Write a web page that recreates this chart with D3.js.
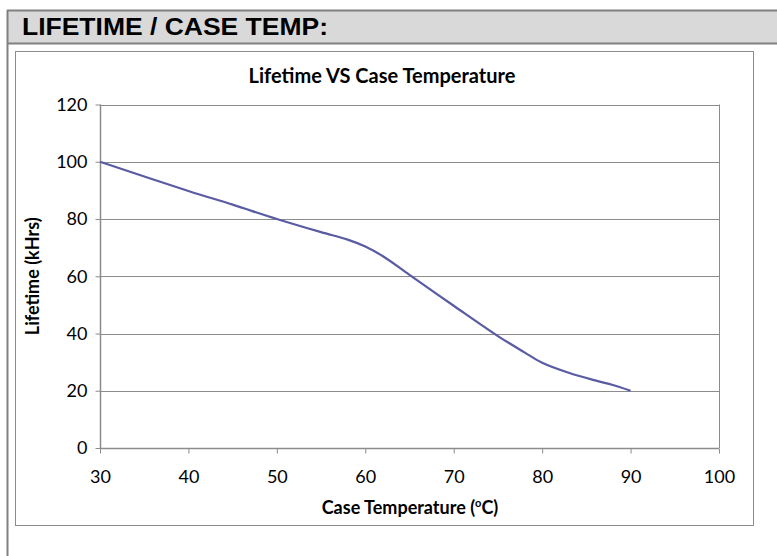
<!DOCTYPE html>
<html>
<head>
<meta charset="utf-8">
<script src="https://cdn.jsdelivr.net/npm/d3@7"></script>
<style>
  html, body { margin: 0; padding: 0; background: #fff; }
  svg { display: block; }
</style>
</head>
<body>
<div id="chart"></div>
<script>
const caseTemp = [30, 40, 45, 50, 55, 58, 60, 62, 65, 70, 75, 78, 80, 83, 86, 88, 90];
const lifetime = [100, 89.8, 85, 80, 75.4, 72.8, 70.4, 67, 60.5, 49.7, 39.1, 33.4, 29.8, 26.3, 23.6, 22, 20];
const xTicks = [30, 40, 50, 60, 70, 80, 90, 100];
const yTicks = [0, 20, 40, 60, 80, 100, 120];

const width = 777;
const height = 556;
const lineColor = '#5a5ca3';
const gridColor = '#8c8c8c';
const labelFont = 'Lato, "Open Sans", sans-serif';

const plot = {left: 100, right: 719, top: 104.5, bottom: 448};

const svg = d3.select('#chart')
  .append('svg')
  .attr('width', width)
  .attr('height', height);

// header band
svg.append('rect')
  .attr('x', 8).attr('y', 11)
  .attr('width', width - 8).attr('height', 32)
  .attr('fill', '#d9d9d9');
svg.append('line')
  .attr('x1', 7).attr('x2', width).attr('y1', 10.5).attr('y2', 10.5)
  .attr('stroke', '#808080').attr('stroke-width', 2);
svg.append('line')
  .attr('x1', 7).attr('x2', width).attr('y1', 43.5).attr('y2', 43.5)
  .attr('stroke', '#808080').attr('stroke-width', 2);
svg.append('line')
  .attr('x1', 7.5).attr('x2', 7.5).attr('y1', 10).attr('y2', height)
  .attr('stroke', '#808080').attr('stroke-width', 2);

svg.append('text')
  .attr('x', 22).attr('y', 35)
  .attr('font-family', 'Arial, "Liberation Sans", sans-serif')
  .attr('font-weight', 'bold')
  .attr('font-size', 24)
  .attr('textLength', 306)
  .attr('lengthAdjust', 'spacingAndGlyphs')
  .attr('fill', '#000')
  .text('LIFETIME / CASE TEMP:');

// chart box
svg.append('rect')
  .attr('x', 15.5).attr('y', 51.5)
  .attr('width', 738).attr('height', 474)
  .attr('fill', '#fff')
  .attr('stroke', '#8c8c8c');

const xScale = d3.scaleLinear().domain([30, 100]).range([plot.left, plot.right]);
const yScale = d3.scaleLinear().domain([0, 120]).range([plot.bottom, plot.top]);

// gridlines
svg.append('g')
  .selectAll('line')
  .data(yTicks.filter(d => d > 0))
  .join('line')
  .attr('x1', plot.left).attr('x2', plot.right)
  .attr('y1', d => Math.round(yScale(d)) + 0.5)
  .attr('y2', d => Math.round(yScale(d)) + 0.5)
  .attr('stroke', gridColor);

// right border of plot
svg.append('line')
  .attr('x1', plot.right + 0.5).attr('x2', plot.right + 0.5)
  .attr('y1', plot.top).attr('y2', plot.bottom)
  .attr('stroke', gridColor);

// axes
const xAxis = svg.append('g')
  .attr('transform', `translate(0, ${Math.round(plot.bottom) + 0.5})`)
  .call(d3.axisBottom(xScale).tickValues(xTicks).tickSize(5).tickPadding(17));
const yAxis = svg.append('g')
  .attr('transform', `translate(${plot.left + 0.5}, 0)`)
  .call(d3.axisLeft(yScale).tickValues(yTicks).tickSize(5).tickPadding(8));

[xAxis, yAxis].forEach(ax => {
  ax.select('.domain').attr('stroke', gridColor).attr('stroke-width', 1.5);
  ax.selectAll('.tick line').attr('stroke', gridColor);
  ax.selectAll('.tick text')
    .attr('font-family', labelFont)
    .attr('font-size', 18)
    .attr('fill', '#000');
});
xAxis.select('.domain').attr('d', `M${plot.left},0H${plot.right}`);
yAxis.select('.domain').attr('d', `M0,${plot.top}V${plot.bottom}`);

// series line
const data = caseTemp.map((t, i) => ({t, v: lifetime[i]}));
const line = d3.line()
  .x(d => xScale(d.t))
  .y(d => yScale(d.v))
  .curve(d3.curveCatmullRom.alpha(0.5));

svg.append('path')
  .datum(data)
  .attr('fill', 'none')
  .attr('stroke', lineColor)
  .attr('stroke-width', 2.25)
  .attr('d', line);

// titles
svg.append('text')
  .attr('x', 382).attr('y', 83)
  .attr('text-anchor', 'middle')
  .attr('font-family', labelFont)
  .attr('font-weight', 'bold')
  .attr('font-size', 20)
  .text('Lifetime VS Case Temperature');

svg.append('text')
  .attr('transform', `translate(39, ${(plot.top + plot.bottom) / 2}) rotate(-90)`)
  .attr('text-anchor', 'middle')
  .attr('font-family', labelFont)
  .attr('font-weight', 'bold')
  .attr('font-size', 18)
  .text('Lifetime (kHrs)');

const xTitle = svg.append('text')
  .attr('x', 410).attr('y', 514)
  .attr('text-anchor', 'middle')
  .attr('font-family', labelFont)
  .attr('font-weight', 'bold')
  .attr('font-size', 18);
xTitle.append('tspan').text('Case Temperature (');
xTitle.append('tspan').attr('dy', -7).attr('font-size', 11).text('o');
xTitle.append('tspan').attr('dy', 7).text('C)');
</script>
</body>
</html>
